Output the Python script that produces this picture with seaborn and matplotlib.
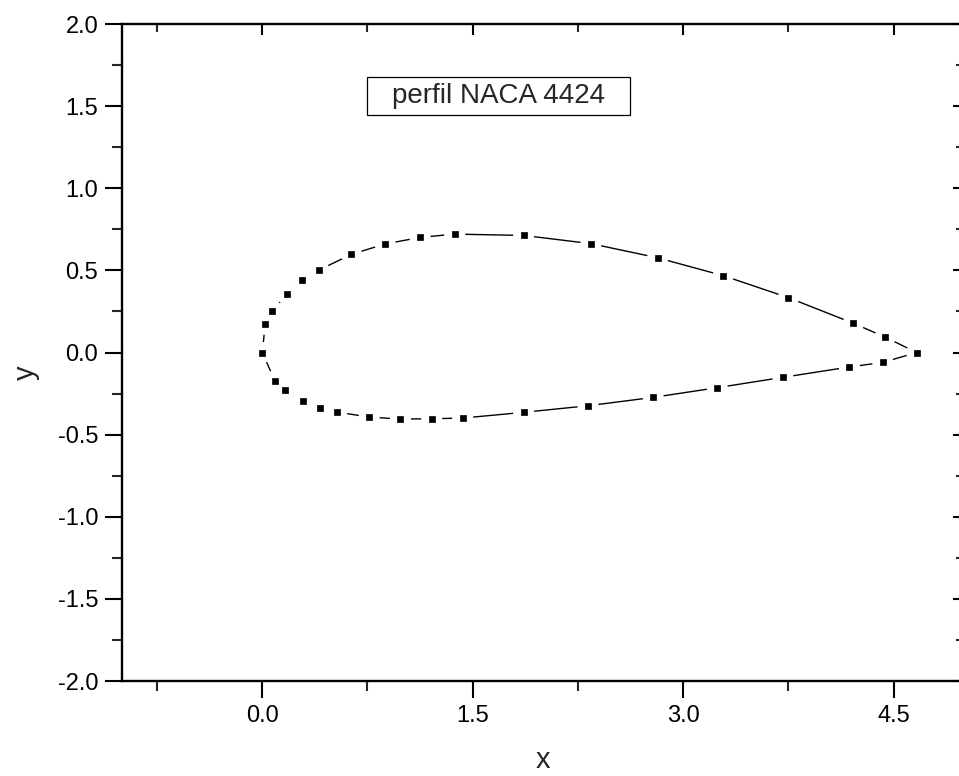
import numpy as np
import pandas as pd
import matplotlib
matplotlib.use("Agg")
import matplotlib.pyplot as plt
from matplotlib.patches import Rectangle
from matplotlib.ticker import MultipleLocator
import seaborn as sns

# NACA 4424 profile coordinates
upper_x = [0.0, 0.021, 0.071, 0.177, 0.285, 0.403, 0.636, 0.876, 1.125, 1.372, 1.863,
           2.343, 2.818, 3.286, 3.751, 4.214, 4.440, 4.665]
upper_y = [0.0, 0.172, 0.255, 0.355, 0.440, 0.502, 0.598, 0.661, 0.701, 0.721, 0.713,
           0.663, 0.577, 0.468, 0.334, 0.178, 0.094, 0.0]
lower_x = [0.090, 0.161, 0.289, 0.413, 0.531, 0.762, 0.985, 1.208, 1.429, 1.863,
           2.322, 2.787, 3.243, 3.711, 4.185, 4.423]
lower_y = [-0.172, -0.230, -0.295, -0.336, -0.362, -0.393, -0.405, -0.403, -0.399, -0.364,
           -0.324, -0.273, -0.214, -0.151, -0.088, -0.060]

x_ticks = [0.0, 1.5, 3.0, 4.5]
y_ticks = [-2.0, -1.5, -1.0, -0.5, 0.0, 0.5, 1.0, 1.5, 2.0]
title_text = "perfil NACA 4424"

# closed contour: upper surface LE->TE, lower surface TE->LE, back to LE
cx = upper_x + lower_x[::-1] + [upper_x[0]]
cy = upper_y + lower_y[::-1] + [upper_y[0]]
contour = pd.DataFrame({"x": cx, "y": cy, "order": np.arange(len(cx))})
points = pd.DataFrame({"x": upper_x + lower_x, "y": upper_y + lower_y})

sns.set_style("ticks")
plt.rcParams["font.family"] = ["Liberation Sans", "DejaVu Sans"]

fig = plt.figure(figsize=(9.59, 7.76), dpi=100)
ax = fig.add_axes([0.1272, 0.1224, 0.8777, 0.8466])

sns.lineplot(data=contour, x="x", y="y", sort=False, estimator=None,
             color="black", linewidth=1.0, ax=ax, zorder=2)
# white halos open a gap in the line around each symbol
sns.scatterplot(data=points, x="x", y="y", s=230, color="white",
                edgecolor="none", ax=ax, zorder=3)
sns.scatterplot(data=points, x="x", y="y", marker="s", s=18, color="black",
                edgecolor="black", linewidth=0.5, ax=ax, zorder=4)

ax.set_xlim(-1.0, 5.0)
ax.set_ylim(-2.0, 2.0)
ax.set_xticks(x_ticks)
ax.set_xticklabels([f"{v:.1f}" for v in x_ticks])
ax.set_yticks(y_ticks)
ax.set_yticklabels([f"{v:.1f}" for v in y_ticks])
ax.xaxis.set_minor_locator(MultipleLocator(0.75))
ax.yaxis.set_minor_locator(MultipleLocator(0.25))

for s in ax.spines.values():
    s.set_linewidth(1.7)
    s.set_color("black")

ax.tick_params(axis="both", which="major", direction="out", length=12, width=1.5,
               labelsize=17, pad=5, colors="black")
ax.tick_params(axis="both", which="minor", direction="out", length=7, width=1.5)
ax.tick_params(top=True, right=True, which="both")
for t in ax.xaxis.get_major_ticks() + ax.yaxis.get_major_ticks():
    t.tick2line.set_markersize(8)
for t in ax.xaxis.get_minor_ticks() + ax.yaxis.get_minor_ticks():
    t.tick2line.set_markersize(6)
# top and right ticks point inward
for t in ax.xaxis.get_major_ticks() + ax.xaxis.get_minor_ticks():
    t.tick2line.set_marker(3)
for t in ax.yaxis.get_major_ticks() + ax.yaxis.get_minor_ticks():
    t.tick2line.set_marker(0)

ax.set_xlabel("x", fontsize=21)
ax.xaxis.label.set_va("baseline")
ax.xaxis.set_label_coords(0.5, -0.133)
ax.set_ylabel("y", fontsize=21)
ax.yaxis.set_label_coords(-0.098, 0.47)

# framed caption
fig.patches.append(Rectangle((367 / 959, 1 - 115 / 776), 263 / 959, 38 / 776,
                             transform=fig.transFigure, facecolor="white",
                             edgecolor="black", linewidth=0.9, zorder=5))
fig.text(498.5 / 959, 1 - 96 / 776, title_text, fontsize=20, ha="center",
         va="center", zorder=6)

fig.savefig("out.png", dpi=100)
